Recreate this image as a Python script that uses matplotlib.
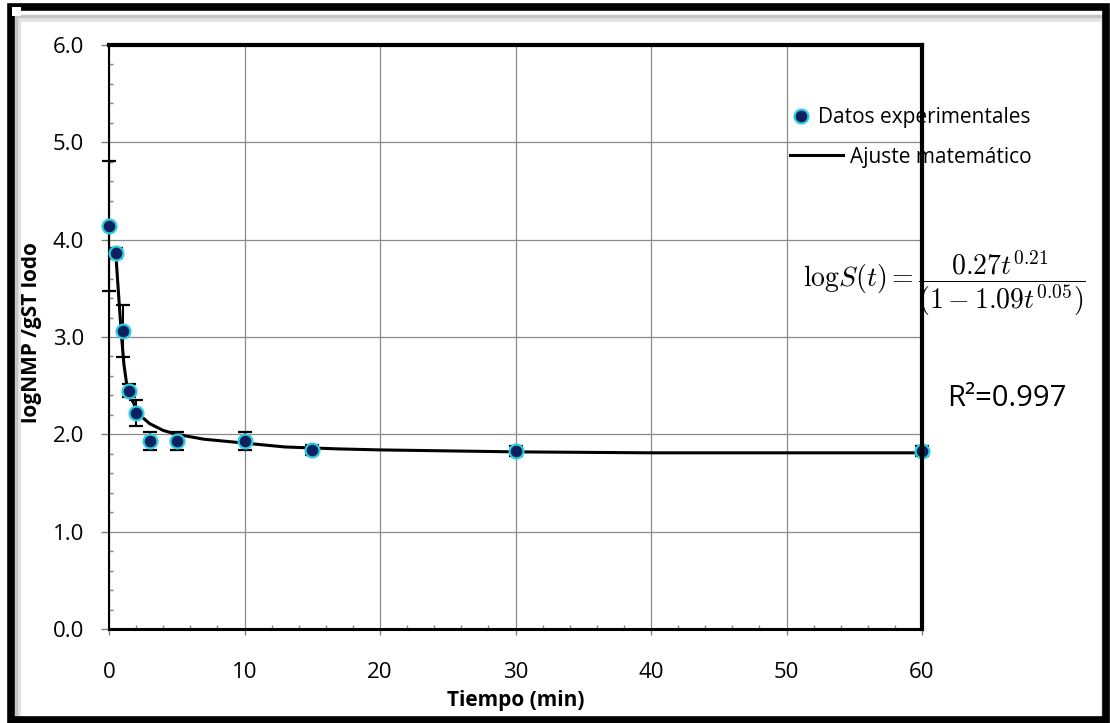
import matplotlib
matplotlib.use('Agg')
import matplotlib.pyplot as plt
from matplotlib.patches import Rectangle
from matplotlib.lines import Line2D
from matplotlib.ticker import MultipleLocator, FormatStrFormatter

plt.rcParams['font.family'] = ['Open Sans', 'DejaVu Sans']
plt.rcParams['mathtext.fontset'] = 'cm'

# experimental data
tiempo = [0, 0.5, 1, 1.5, 2, 3, 5, 10, 15, 30, 60]
log_nmp = [4.14, 3.86, 3.06, 2.45, 2.22, 1.93, 1.93, 1.93, 1.84, 1.83, 1.83]
error = [0.67, 0.05, 0.27, 0.07, 0.13, 0.09, 0.09, 0.09, 0.05, 0.05, 0.05]

# fitted curve
fit_t = [0.5, 0.7, 0.9, 1.1, 1.3, 1.6, 2.0, 2.5, 3.0, 4.0, 5.0, 7.0,
         10, 13, 17, 20, 25, 30, 40, 50, 60]
fit_y = [3.86, 3.45, 3.05, 2.72, 2.52, 2.38, 2.27, 2.17, 2.11, 2.04, 2.00, 1.95,
         1.91, 1.87, 1.85, 1.84, 1.83, 1.82, 1.81, 1.81, 1.81]

W, H = 1110, 723
fig = plt.figure(figsize=(W / 100, H / 100), dpi=100)
ax = fig.add_axes([109 / W, 1 - 629 / H, 813 / W, 584 / H])

# error bars, fit line, markers
ax.errorbar(tiempo, log_nmp, yerr=error, fmt='none', ecolor='black',
            elinewidth=1.5, capsize=5, capthick=1.6, zorder=3, clip_on=False)
ax.plot(fit_t, fit_y, color='black', lw=2.2, zorder=3.5)
pts, = ax.plot(tiempo, log_nmp, 'o', ms=10, mfc='#0d2060', mec='#2ccfe0',
               mew=1.6, zorder=4, clip_on=False)

ax.set_xlim(0, 60)
ax.set_ylim(0, 6)
ax.xaxis.set_major_locator(MultipleLocator(10))
ax.xaxis.set_minor_locator(MultipleLocator(2))
ax.yaxis.set_major_locator(MultipleLocator(1))
ax.yaxis.set_minor_locator(MultipleLocator(0.2))
ax.yaxis.set_major_formatter(FormatStrFormatter('%.1f'))

ax.grid(True, which='major', color='#8a8a8a', lw=0.9)
ax.set_axisbelow(True)
ax.tick_params(axis='both', which='major', direction='out', color='#808080',
               width=1, labelsize=16)
ax.tick_params(axis='y', which='major', length=6, pad=12)
ax.tick_params(axis='x', which='major', length=4, pad=20)
ax.tick_params(axis='both', which='minor', direction='in', length=3,
               color='#808080', width=1)

for side, lw in [('left', 1.5), ('bottom', 2.2), ('top', 3), ('right', 3)]:
    ax.spines[side].set_linewidth(lw)
    ax.spines[side].set_color('black')
ax.spines['right'].set_zorder(6)

ax.set_xlabel('Tiempo (min)', fontsize=15, fontweight='bold', va='top')
ax.xaxis.set_label_coords(0.5, -0.104)
ax.set_ylabel('logNMP /gST lodo', fontsize=15, fontweight='bold')
ax.yaxis.set_label_coords(-0.082, 0.507)

# legend, two entries placed separately
leg1 = ax.legend([pts], ['Datos experimentales'], loc='center left',
                 bbox_to_anchor=(791 / W, 1 - 118 / H), bbox_transform=fig.transFigure,
                 frameon=False, fontsize=15, borderpad=0, borderaxespad=0,
                 handlelength=1.0, handletextpad=0.32)
ax.add_artist(leg1)
ajuste = Line2D([], [], color='black', lw=2.2)
ax.legend([ajuste], ['Ajuste matemático'], loc='center left',
          bbox_to_anchor=(790 / W, 1 - 157 / H), bbox_transform=fig.transFigure,
          frameon=False, fontsize=15, borderpad=0, borderaxespad=0,
          handlelength=2.55, handletextpad=0.34)

fig.text(803 / W, 1 - 283 / H,
         r'$\mathrm{log}S(t)=\dfrac{0.27t^{0.21}}{(1-1.09t^{0.05})}$',
         fontsize=20, ha='left', va='center')
fig.text(947 / W, 1 - 398 / H, 'R²=0.997', fontsize=21, ha='left', va='center')

# outer frame with a soft shadow
fig.patches.append(Rectangle((19 / W, 4 / H), 1 - 26 / W, 1 - 24 / H, fill=False,
                             ec='#e4e4e4', lw=3, transform=fig.transFigure))
fig.patches.append(Rectangle((16 / W, 4 / H), 1 - 22 / W, 1 - 20 / H, fill=False,
                             ec='#c4c4c4', lw=2.5, transform=fig.transFigure))
fig.patches.append(Rectangle((11 / W, 3.5 / H), 1 - 15.5 / W, 1 - 10 / H, fill=False,
                             ec='black', lw=5.5, transform=fig.transFigure))
fig.patches.append(Rectangle((12 / W, 1 - 16 / H), 9 / W, 9 / H, fc='white',
                             ec='none', transform=fig.transFigure))

fig.savefig('out.png', dpi=100)
